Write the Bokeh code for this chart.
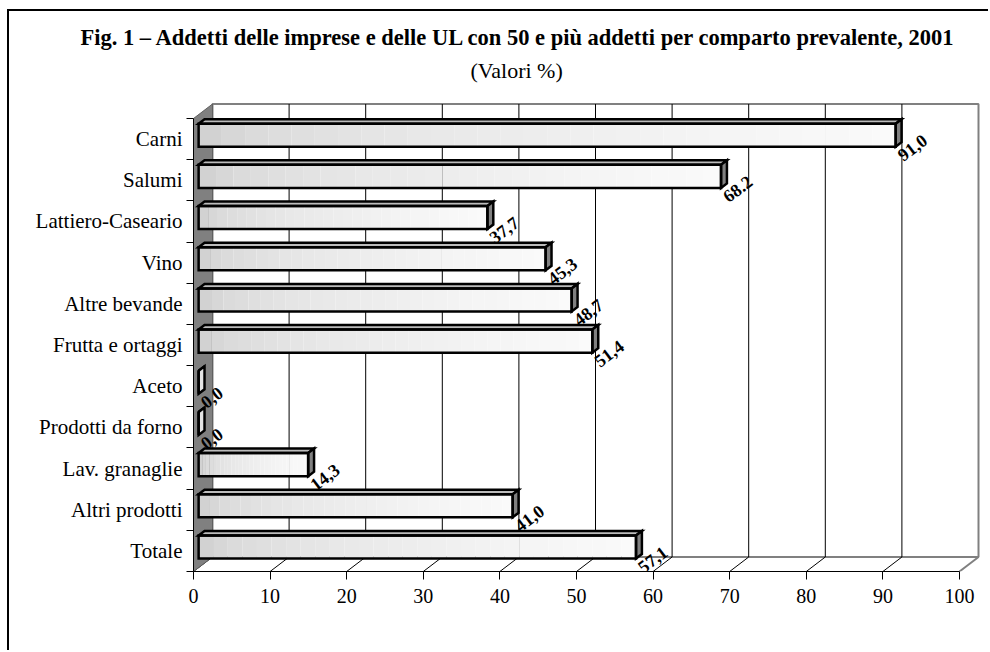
import numpy as np
from bokeh.plotting import figure
from bokeh.models import Range1d, FixedTicker, Title
from bokeh.embed import file_html
from bokeh.resources import INLINE
from bokeh.core.properties import value

# ---------------- data ----------------
categories = ["Carni", "Salumi", "Lattiero-Caseario", "Vino", "Altre bevande",
              "Frutta e ortaggi", "Aceto", "Prodotti da forno", "Lav. granaglie",
              "Altri prodotti", "Totale"]
values = [91.0, 68.2, 37.7, 45.3, 48.7, 51.4, 0.0, 0.0, 14.3, 41.0, 57.1]
value_labels = ["91,0", "68.2", "37,7", "45,3", "48,7", "51,4", "0,0", "0,0",
                "14,3", "41,0", "57,1"]
x_ticks = [0, 10, 20, 30, 40, 50, 60, 70, 80, 90, 100]
title_text = "Fig. 1 \u2013 Addetti delle imprese e delle UL con 50 e pi\u00f9 addetti per comparto prevalente, 2001"
subtitle_text = "(Valori %)"

# ---------------- layout ----------------
W, H = 981, 641
FRAME_L, FRAME_R, FRAME_T, FRAME_B = 184, 973, 89, 560   # figure pixel coords
PX_X = 7.66          # pixels per % unit
PX_Y = 41.18         # pixels per category band
N = len(categories)
x_end = (FRAME_R - FRAME_L) / PX_X
y_end = (FRAME_B - FRAME_T) / PX_Y

DX = 19.0 / PX_X     # full depth offset in data units
DY = 14.5 / PX_Y
F1, F2 = 0.27, 0.58  # depth fractions of bar front / back
MARGIN = 0.22        # category-band margin above/below bar

SERIF = "Liberation Serif"
GRAY = "#808080"

p = figure(width=W, height=H, output_backend="svg", toolbar_location=None,
           x_range=Range1d(0, x_end), y_range=Range1d(0, y_end),
           min_border_left=FRAME_L, min_border_right=W - FRAME_R,
           min_border_top=FRAME_T, min_border_bottom=H - FRAME_B,
           background_fill_color="white", border_fill_color="white")
p.outline_line_color = None
p.xgrid.visible = False
p.ygrid.visible = False
p.styles = {"margin-left": "7px", "margin-top": "9px",
            "border-left": "2px solid #000", "border-top": "2px solid #000"}

# titles
p.add_layout(Title(text=subtitle_text, align="left", text_font=SERIF,
                   text_font_style="normal", text_font_size="22px",
                   text_color="black", offset=277, standoff=36), "above")
p.title.text = title_text
p.title.align = "left"
p.title.offset = -113
p.title.text_font = SERIF
p.title.text_font_style = "bold"
p.title.text_font_size = "22.5px"
p.title.text_color = "black"
p.title.standoff = -25

# back wall
p.quad(left=[DX], right=[100 + DX], bottom=[DY], top=[N + DY],
       fill_color="white", line_color=GRAY, line_width=2)
gx = [t + DX for t in x_ticks[1:-1]]
p.segment(x0=gx, y0=[DY] * len(gx), x1=gx, y1=[N + DY] * len(gx),
          line_color="black", line_width=1)
# floor diagonals
p.segment(x0=x_ticks[:-1], y0=[0] * (len(x_ticks) - 1),
          x1=[t + DX for t in x_ticks[:-1]], y1=[DY] * (len(x_ticks) - 1),
          line_color="black", line_width=1)
p.segment(x0=[100], y0=[0], x1=[100 + DX], y1=[DY], line_color=GRAY, line_width=2)
# left wall
p.patch(x=[0, 0, DX, DX], y=[0, N, N + DY, DY], fill_color=GRAY,
        line_color="#606060", line_width=1)

# bars
strip_l, strip_r, strip_b, strip_t, strip_c = [], [], [], [], []
top_xs, top_ys, end_xs, end_ys, end_c = [], [], [], [], []
face_l, face_r, face_b, face_t = [], [], [], []
lab_x, lab_y = [], []
NS = 30
dd = F2 - F1
for i, (cat, v) in enumerate(zip(categories, values)):
    band = N - 1 - i
    x0 = F1 * DX
    x1 = x0 + v
    yb = band + MARGIN + F1 * DY
    yt = band + 1 - MARGIN + F1 * DY
    if v > 0:
        for s in range(NS):
            t = (s + 0.5) / NS
            g = int(round(200 + (250 - 200) * (t ** 0.4)))
            strip_l.append(x0 + v * s / NS)
            strip_r.append(x0 + v * (s + 1) / NS)
            strip_b.append(yb)
            strip_t.append(yt)
            strip_c.append("#%02x%02x%02x" % (g, g, g))
    face_l.append(x0); face_r.append(x1); face_b.append(yb); face_t.append(yt)
    top_xs.append([x0, x1, x1 + dd * DX, x0 + dd * DX])
    top_ys.append([yt, yt, yt + dd * DY, yt + dd * DY])
    end_xs.append([x1, x1, x1 + dd * DX, x1 + dd * DX])
    end_ys.append([yb, yt, yt + dd * DY, yb + dd * DY])
    end_c.append(GRAY if v > 0 else "#e4e4e4")
    lab_x.append(x1)
    lab_y.append(yb)

p.quad(left=strip_l, right=strip_r, bottom=strip_b, top=strip_t,
       fill_color=strip_c, line_color=None)
p.patches(xs=top_xs, ys=top_ys, fill_color="#bcbcbc", line_color="black",
          line_width=2.5, line_join="miter")
p.patches(xs=end_xs, ys=end_ys, fill_color=end_c, line_color="black",
          line_width=2.5, line_join="miter")
p.quad(left=face_l, right=face_r, bottom=face_b, top=face_t,
       fill_color=None, line_color="black", line_width=2.5, line_join="miter")

p.text(x=lab_x, y=lab_y, text=value_labels, angle=np.deg2rad(37),
       text_align="left", text_baseline="top", x_offset=0, y_offset=5,
       text_font=value(SERIF), text_font_style="bold", text_font_size="18px",
       text_color="black")

# axes
xa = p.xaxis[0]
xa.ticker = FixedTicker(ticks=x_ticks)
xa.bounds = (0, 100)
xa.major_tick_in = 0
xa.major_tick_out = 8
xa.minor_tick_in = 0
xa.minor_tick_out = 0
xa.axis_line_color = "black"
xa.major_tick_line_color = "black"
xa.major_label_text_font = SERIF
xa.major_label_text_font_size = "20px"
xa.major_label_text_color = "black"
xa.major_label_standoff = 9

ya = p.yaxis[0]
centers = [k + 0.5 for k in range(N)]
ya.ticker = FixedTicker(ticks=centers, minor_ticks=list(range(N + 1)))
ya.bounds = (0, N)
ya.major_tick_in = 0
ya.major_tick_out = 0
ya.minor_tick_in = 0
ya.minor_tick_out = 7
ya.minor_tick_line_color = "black"
ya.axis_line_color = "black"
ya.major_label_overrides = {c: categories[N - 1 - k] for k, c in enumerate(centers)}
ya.major_label_text_font = SERIF
ya.major_label_text_font_size = "21px"
ya.major_label_text_color = "black"
ya.major_label_standoff = 4

open("out.html", "w").write(file_html(p, INLINE))
